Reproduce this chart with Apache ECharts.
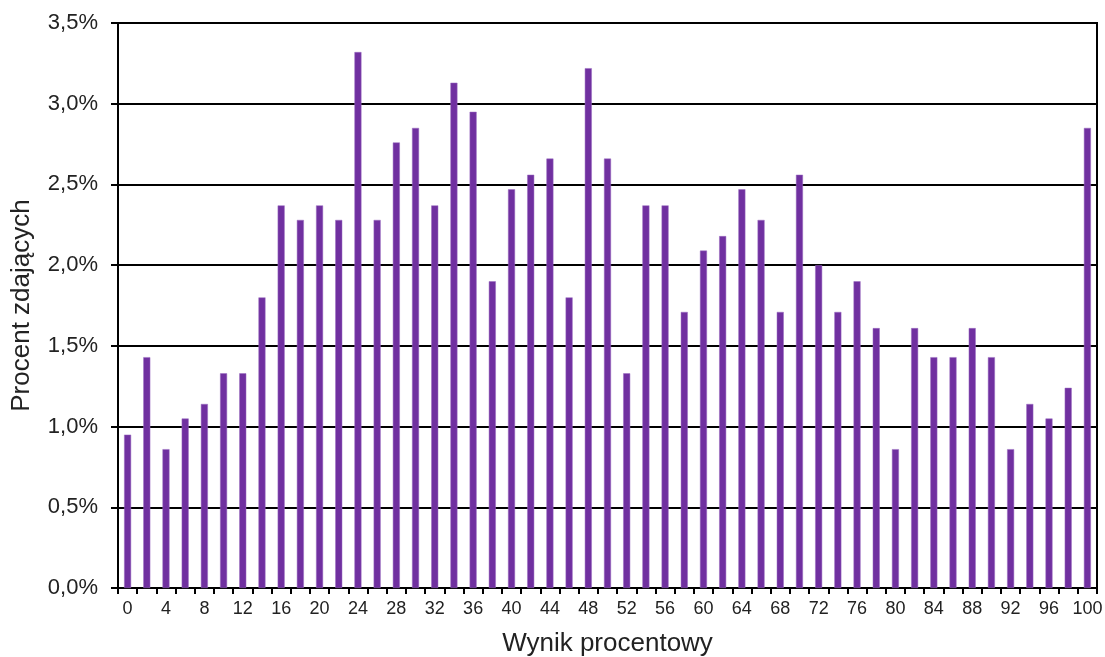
<!DOCTYPE html>
<html>
<head>
<meta charset="utf-8">
<script src="https://cdn.jsdelivr.net/npm/echarts@6/dist/echarts.min.js"></script>
<style>html,body{margin:0;padding:0;background:#fff}#c{width:1105px;height:657px}</style>
</head>
<body>
<div id="c"></div>
<script>
const categories = ['0','2','4','6','8','10','12','14','16','18','20','22','24','26','28','30','32','34','36','38','40','42','44','46','48','50','52','54','56','58','60','62','64','66','68','70','72','74','76','78','80','82','84','86','88','90','92','94','96','98','100'];
const values = [0.95,1.43,0.86,1.05,1.14,1.33,1.33,1.80,2.37,2.28,2.37,2.28,3.32,2.28,2.76,2.85,2.37,3.13,2.95,1.90,2.47,2.56,2.66,1.80,3.22,2.66,1.33,2.37,2.37,1.71,2.09,2.18,2.47,2.28,1.71,2.56,2.00,1.71,1.90,1.61,0.86,1.61,1.43,1.43,1.61,1.43,0.86,1.14,1.05,1.24,2.85];
const xName = 'Wynik procentowy';
const yName = 'Procent zdających';

const chart = echarts.init(document.getElementById('c'));
const font = 'Liberation Sans, Arial, sans-serif';
chart.setOption({
  animation: false,
  backgroundColor: '#fff',
  grid: { left: 118, right: 8, top: 23, bottom: 69, show: true, borderColor: '#000', borderWidth: 2, backgroundColor: 'transparent', containLabel: false, outerBoundsMode: 'none' },
  xAxis: {
    type: 'category',
    data: categories,
    name: xName,
    nameLocation: 'middle',
    nameGap: 43,
    nameTextStyle: { fontFamily: font, fontSize: 26, color: '#222' },
    axisLine: { lineStyle: { color: '#000', width: 2 } },
    axisTick: { show: true, interval: 0, length: 6, lineStyle: { color: '#000', width: 2 } },
    axisLabel: { interval: 1, fontFamily: font, fontSize: 18, color: '#222', margin: 12 },
    splitLine: { show: false }
  },
  yAxis: {
    type: 'value',
    min: 0, max: 3.5, interval: 0.5,
    name: yName,
    nameLocation: 'middle',
    nameGap: 83,
    nameRotate: 90,
    nameTextStyle: { fontFamily: font, fontSize: 26, color: '#222' },
    axisLine: { show: true, lineStyle: { color: '#000', width: 2 } },
    axisTick: { show: true, length: 7, lineStyle: { color: '#000', width: 2 } },
    axisLabel: { fontFamily: font, fontSize: 22, color: '#222', margin: 20,
      formatter: v => v.toFixed(1).replace('.', ',') + '%' },
    splitLine: { show: true, lineStyle: { color: '#000', width: 2 } }
  },
  series: [{
    type: 'bar',
    data: values,
    barWidth: 7,
    itemStyle: { color: '#7030A0', borderColor: '#9a6cc0', borderWidth: 0.5 }
  }]
});
</script>
</body>
</html>
